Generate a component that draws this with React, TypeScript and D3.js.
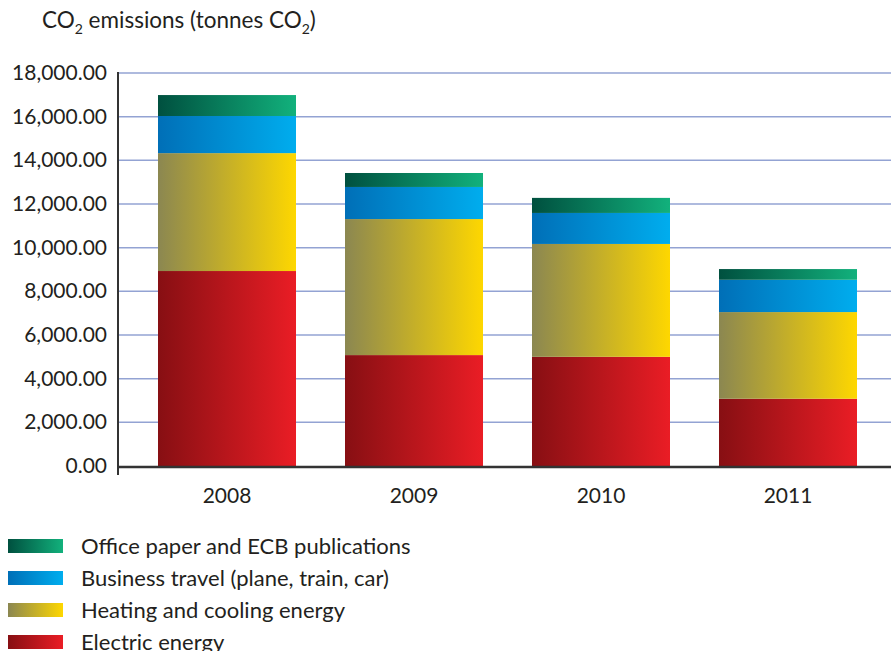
import React from "react";
import * as d3 from "d3";

const years = ["2008", "2009", "2010", "2011"];
const electric = [8930, 5080, 5000, 3080];
const heating = [5400, 6230, 5170, 3970];
const travel = [1700, 1470, 1420, 1480];
const paper = [960, 640, 690, 490];
const yTicks = [0, 2000, 4000, 6000, 8000, 10000, 12000, 14000, 16000, 18000];

const seriesNames = [
  "Electric energy",
  "Heating and cooling energy",
  "Business travel (plane, train, car)",
  "Office paper and ECB publications",
];
const gradients = [
  ["#870f13", "#ea1d25"],
  ["#8b8751", "#fed700"],
  ["#006fb7", "#00adee"],
  ["#00503f", "#12b17c"],
];

export default function App() {
  const W = 891, H = 651;
  const x0 = 118, y0 = 466, yTop = 73;
  const font = "Lato, 'DejaVu Sans', sans-serif";
  const y = d3.scaleLinear().domain([0, 18000]).range([y0, yTop]);
  const x = d3.scaleBand().domain(years).range([139.3, 875.7]).paddingInner(0.262).paddingOuter(0.1);
  const rows = years.map((yr, i) => ({ year: yr, electric: electric[i], heating: heating[i], travel: travel[i], paper: paper[i] }));
  const keys = ["electric", "heating", "travel", "paper"];
  const stacked = d3.stack<any>().keys(keys)(rows);
  const fmt = d3.format(",.2f");
  const legendOrder = [3, 2, 1, 0];

  return (
    <svg width={W} height={H} style={{ position: "absolute", left: 0, top: 0, background: "#fff" }}>
      <defs>
        {gradients.map((g, i) => (
          <linearGradient key={i} id={`g${i}`} x1="0" x2="1" y1="0" y2="0">
            <stop offset="0" stopColor={g[0]} />
            <stop offset="1" stopColor={g[1]} />
          </linearGradient>
        ))}
      </defs>
      <text x={42} y={28} fontFamily={font} fontSize={22.5} fill="#231f20">
        CO<tspan fontSize={14} dy={6}>2</tspan>
        <tspan dy={-6}> emissions (tonnes CO</tspan>
        <tspan fontSize={14} dy={6}>2</tspan>
        <tspan dy={-6}>)</tspan>
      </text>
      {yTicks.map((t) => (
        <g key={t}>
          {t > 0 && <line x1={x0} x2={W} y1={y(t)} y2={y(t)} stroke="#93a3d3" strokeWidth={1.5} />}
          <text x={107} y={y(t) + 7} textAnchor="end" fontFamily={font} fontSize={21} fill="#231f20">
            {fmt(t)}
          </text>
        </g>
      ))}
      {stacked.map((s, si) => (
        <g key={si}>
          {s.map((d: any, i: number) => (
            <rect key={i} x={x(years[i])} width={x.bandwidth()} y={y(d[1])} height={y(d[0]) - y(d[1])} fill={`url(#g${si})`} />
          ))}
        </g>
      ))}
      <line x1={x0} x2={x0} y1={yTop - 1} y2={y0 + 9} stroke="#333" strokeWidth={2} />
      <line x1={x0 - 1} x2={W} y1={y0 + 1} y2={y0 + 1} stroke="#333" strokeWidth={2.5} />
      {years.map((yr) => (
        <text key={yr} x={(x(yr) as number) + x.bandwidth() / 2} y={503} textAnchor="middle" fontFamily={font} fontSize={21} fill="#231f20">
          {yr}
        </text>
      ))}
      {legendOrder.map((si, k) => (
        <g key={si} transform={`translate(0, ${539 + k * 32})`}>
          <rect x={8} y={0} width={55} height={14} fill={`url(#g${si})`} />
          <text x={81} y={15} fontFamily={font} fontSize={22} fill="#231f20">
            {seriesNames[si]}
          </text>
        </g>
      ))}
    </svg>
  );
}
